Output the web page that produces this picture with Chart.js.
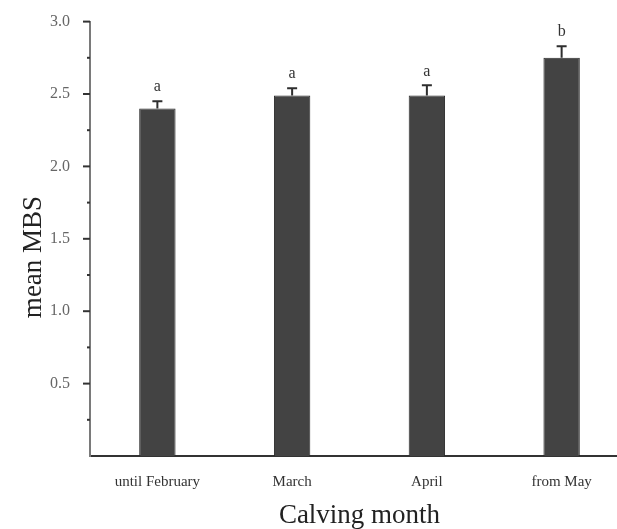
<!DOCTYPE html>
<html>
<head>
<meta charset="utf-8">
<script src="https://cdn.jsdelivr.net/npm/chart.js@4"></script>
<style>
    html, body { margin: 0; padding: 0; background: #fff; overflow: hidden; }
    #wrap { width: 629px; height: 529px; position: relative; }
</style>
</head>
<body>
<div id="wrap"><canvas id="mbsChart"></canvas></div>
<script>
// Mean MBS by calving month
const months = ["until February", "March", "April", "from May"];
const meanMBS = [2.40, 2.49, 2.49, 2.75];
const errMBS = [0.05, 0.05, 0.07, 0.08];
const groupLetters = ["a", "a", "a", "b"];
const yTicks = [0.5, 1.0, 1.5, 2.0, 2.5, 3.0];

const serif = "'Liberation Serif', 'Times New Roman', serif";

// error bars + significance letters
const errorBarPlugin = {
    id: "errorBars",
    afterDatasetsDraw(chart) {
        const ctx = chart.ctx;
        const yScale = chart.scales.y;
        const meta = chart.getDatasetMeta(0);
        ctx.save();
        meta.data.forEach(function (bar, i) {
            const top = yScale.getPixelForValue(meanMBS[i] + errMBS[i]);
            ctx.strokeStyle = "#2e2e2e";
            ctx.lineWidth = 2;
            ctx.beginPath();
            ctx.moveTo(bar.x, bar.y);
            ctx.lineTo(bar.x, top);
            ctx.moveTo(bar.x - 5, top);
            ctx.lineTo(bar.x + 5, top);
            ctx.stroke();
            ctx.fillStyle = "#333";
            ctx.font = "16px " + serif;
            ctx.textAlign = "center";
            ctx.textBaseline = "middle";
            ctx.fillText(groupLetters[i], bar.x, top - 14);
        });
        ctx.restore();
    }
};

// y axis tick marks (major + minor) and rotated title
const yAxisPlugin = {
    id: "yAxisMarks",
    afterDraw(chart) {
        const ctx = chart.ctx;
        const yScale = chart.scales.y;
        const x0 = yScale.right;
        ctx.save();
        ctx.strokeStyle = "#333";
        ctx.lineWidth = 2;
        yScale.ticks.forEach(function (t) {
            if (t.value === 0) return;
            const y = yScale.getPixelForValue(t.value);
            const len = yTicks.includes(t.value) ? 7 : 3;
            ctx.beginPath();
            ctx.moveTo(x0 - len, y);
            ctx.lineTo(x0, y);
            ctx.stroke();
        });
        ctx.translate(34, 257);
        ctx.rotate(-Math.PI / 2);
        ctx.fillStyle = "#222";
        ctx.font = "27px " + serif;
        ctx.textAlign = "center";
        ctx.textBaseline = "middle";
        ctx.fillText("mean MBS", 0, 0);
        ctx.restore();
    }
};

new Chart(document.getElementById("mbsChart").getContext("2d"), {
    type: "bar",
    data: {
        labels: months,
        datasets: [
            {
                data: meanMBS,
                backgroundColor: "#434343",
                borderColor: "#2a2a2a",
                borderWidth: 1,
                barPercentage: 0.27,
                categoryPercentage: 1.0,
            },
        ],
    },
    options: {
        responsive: true,
        maintainAspectRatio: false,
        animation: false,
        layout: { padding: { top: 20, right: 0, left: 0, bottom: 0 } },
        plugins: {
            legend: { display: false },
            tooltip: { enabled: false },
        },
        scales: {
            x: {
                grid: { display: false },
                border: { display: true, color: "#333", width: 2 },
                ticks: {
                    color: "#333",
                    font: { family: serif, size: 15 },
                    padding: 9,
                    maxRotation: 0,
                },
                title: {
                    display: true,
                    text: "Calving month",
                    color: "#222",
                    font: { family: serif, size: 27, lineHeight: 1 },
                    padding: { top: 0, bottom: 0 },
                },
                afterFit(scale) { scale.height = 73; },
            },
            y: {
                min: 0,
                max: 3,
                grid: { display: false },
                border: { display: true, color: "#7a7a7a", width: 2 },
                ticks: {
                    stepSize: 0.25,
                    autoSkip: false,
                    color: "#666",
                    font: { family: serif, size: 16 },
                    padding: 12,
                    callback: function (v) {
                        return yTicks.includes(v) ? v.toFixed(1) : "";
                    },
                },
                afterFit(scale) { scale.width = 90; },
            },
        },
    },
    plugins: [errorBarPlugin, yAxisPlugin],
});
</script>
</body>
</html>
